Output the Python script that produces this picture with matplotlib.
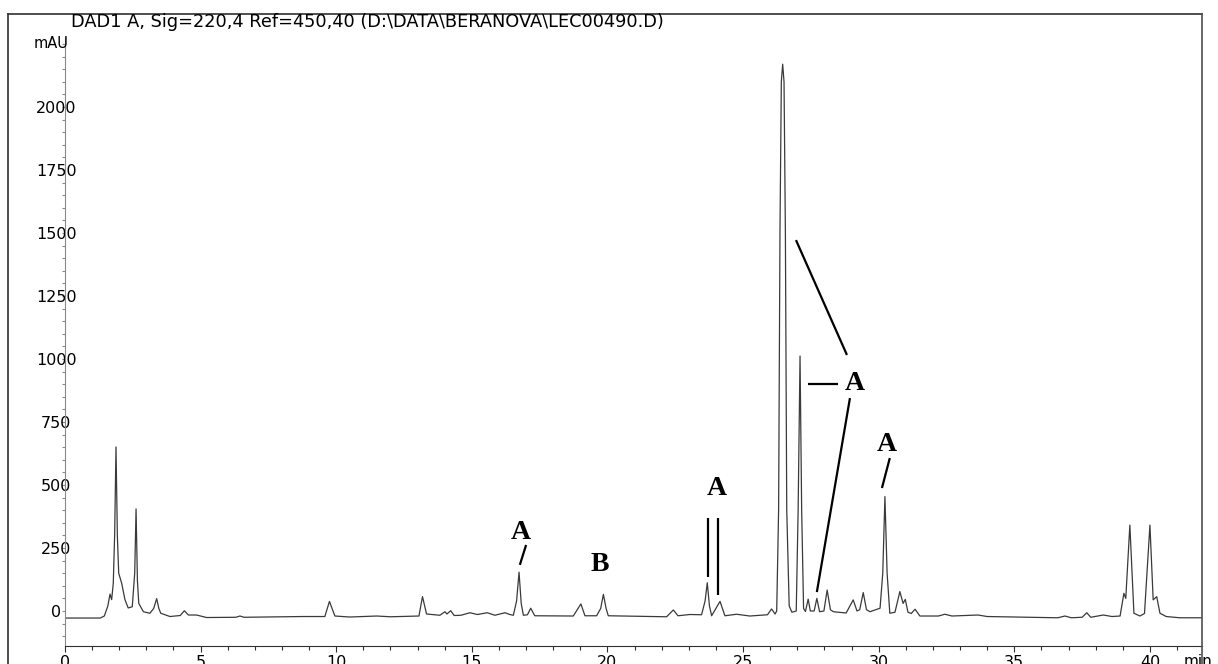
#chromatogram DAD1 A
#import libaries
import matplotlib
matplotlib.use("Agg")
import matplotlib.pyplot as plt
from matplotlib.lines import Line2D
from matplotlib.ticker import MultipleLocator, FixedLocator

#trace (time in min, signal in mAU)
time_min = [0.0, 1.30, 1.45, 1.58, 1.66, 1.72, 1.78, 1.83, 1.88, 1.93, 1.98, 2.09, 2.21, 2.33,
            2.48, 2.57, 2.62, 2.67, 2.72, 2.89, 3.13, 3.27, 3.38, 3.46, 3.53, 3.87, 4.25, 4.40,
            4.55, 4.85, 5.22, 6.30, 6.45, 6.60, 8.78, 9.58, 9.75, 9.95, 10.5, 11.49, 12.0,
            13.05, 13.18, 13.33, 13.82, 14.01, 14.08, 14.22, 14.35, 14.60, 14.93, 15.20, 15.57,
            15.85, 16.22, 16.40, 16.53, 16.65, 16.74, 16.82, 16.90, 17.05, 17.17, 17.32, 18.74,
            19.02, 19.17, 19.60, 19.75, 19.85, 19.95, 20.03, 22.18, 22.43, 22.60, 23.04, 23.47,
            23.60, 23.68, 23.76, 23.84, 24.15, 24.33, 24.76, 25.25, 25.90, 26.05, 26.18, 26.24,
            26.31, 26.36, 26.41, 26.46, 26.51, 26.56, 26.61, 26.70, 26.80, 26.96, 27.03, 27.10,
            27.16, 27.23, 27.30, 27.40, 27.48, 27.62, 27.72, 27.82, 27.98, 28.10, 28.22, 28.33,
            28.80, 29.06, 29.20, 29.30, 29.43, 29.55, 29.68, 30.05, 30.15, 30.23, 30.31, 30.41,
            30.60, 30.78, 30.90, 30.98, 31.08, 31.20, 31.34, 31.52, 32.20, 32.44, 32.70, 33.66,
            34.0, 36.6, 36.87, 37.1, 37.50, 37.67, 37.82, 38.28, 38.60, 38.90, 39.04, 39.11,
            39.26, 39.41, 39.63, 39.80, 40.00, 40.12, 40.25, 40.37, 40.60, 41.10, 42.0]
signal_mau = [-28, -28, -20, 20, 67, 45, 110, 300, 651, 300, 150, 110, 45, 12,
              17, 150, 405, 120, 30, -3, -9, 10, 49, 10, -9, -22, -18, 1,
              -16, -16, -26, -25, -20, -25, -22, -22, 38, -20, -24, -20, -23,
              -20, 57, -12, -17, -3, -12, 1, -18, -17, -7, -14, -7,
              -17, -7, -14, -17, 40, 154, 30, -17, -15, 11, -19, -20,
              28, -19, -19, 10, 66, 10, -19, -23, 4, -19, -14, -15,
              40, 112, 20, -19, 38, -19, -13, -20, -15, 8, -12, 0,
              400, 1500, 2100, 2170, 2100, 1500, 400, 20, -5, 0, 400, 1012,
              400, 10, -2, 47, 0, 0, 50, -3, 0, 83, 5, -3,
              -8, 44, 0, 5, 73, 5, -3, 11, 150, 454, 150, -9,
              -5, 77, 30, 46, -5, -10, 7, -20, -20, -13, -20, -16,
              -22, -27, -20, -27, -25, -7, -25, -16, -22, -20, 70, 50,
              341, -9, -20, -10, 341, 44, 57, -9, -22, -27, -27]

#y tick labels shown on the chart
y_ticks = [0, 250, 500, 750, 1000, 1250, 1500, 1750, 2000]

#peak labels and the lines pointing at the peaks
label_text = ["A", "B", "A", "A", "A"]
label_x = [16.81, 19.72, 24.04, 29.12, 30.30]
label_y = [313, 183, 488, 901, 659]
pointer_x = [[17.0, 16.77], [23.71, 23.71], [24.07, 24.07], [26.95, 28.83], [27.39, 28.50],
             [28.94, 27.72], [30.41, 30.12]]
pointer_y = [[262, 183], [369, 135], [369, 63], [1472, 1016], [901, 901],
             [845, 75], [607, 488]]

fig = plt.figure(figsize=(12.18, 6.64), dpi=100)
ax = fig.add_axes([65/1218, 1 - 646/664, (1202 - 65)/1218, (646 - 38)/664])

ax.plot(time_min, signal_mau, color='#3a3a3a', linewidth=0.9)

#annotations
for i in range(len(label_text)):
    ax.text(label_x[i], label_y[i], label_text[i], fontsize=20, fontweight='bold',
            family='Liberation Serif', ha='center', va='center')
for i in range(len(pointer_x)):
    ax.plot(pointer_x[i], pointer_y[i], color='black', linewidth=1.6, solid_capstyle='butt')

ax.set_xlim(0, 41.92)
ax.set_ylim(-139, 2274)

#axes look like the instrument printout
ax.spines['top'].set_visible(False)
ax.spines['right'].set_visible(False)
ax.spines['left'].set_color('#8a8a8a')
ax.spines['bottom'].set_color('#303030')

ax.xaxis.set_major_locator(MultipleLocator(5))
ax.xaxis.set_minor_locator(MultipleLocator(1))
ax.yaxis.set_major_locator(FixedLocator(y_ticks))
ax.yaxis.set_minor_locator(MultipleLocator(50))
ax.tick_params(axis='x', which='major', direction='out', length=4.3, width=0.8, color='#303030',
               pad=2, labelsize=11.5)
ax.tick_params(axis='x', which='minor', direction='out', length=2.6, width=0.8, color='#303030')
ax.tick_params(axis='y', which='both', direction='out', length=2.2, width=0.8, color='#8a8a8a',
               pad=4.2, labelsize=11.5)
for lab in ax.get_yticklabels():
    lab.set_horizontalalignment('center')

#texts around the axes
fig.text(71/1218, 1 - 22/664, "DAD1 A, Sig=220,4 Ref=450,40 (D:\\DATA\\BERANOVA\\LEC00490.D)",
         fontsize=12.8, ha='left', va='center')
fig.text(51/1218, 1 - 44/664, "mAU", fontsize=10.5, ha='center', va='center')
fig.text(1198/1218, 1 - 661/664, "min", fontsize=11, ha='center', va='center')

#outer frame (bottom edge is off the picture)
fig.add_artist(Line2D([8/1218, 8/1218], [0, 1 - 14/664], color='#303030', linewidth=1.2))
fig.add_artist(Line2D([8/1218, 1202/1218], [1 - 14/664, 1 - 14/664], color='#303030', linewidth=1.2))
fig.add_artist(Line2D([1202/1218, 1202/1218], [0, 1 - 14/664], color='#505050', linewidth=1.2))

plt.savefig("out.png", dpi=100)
